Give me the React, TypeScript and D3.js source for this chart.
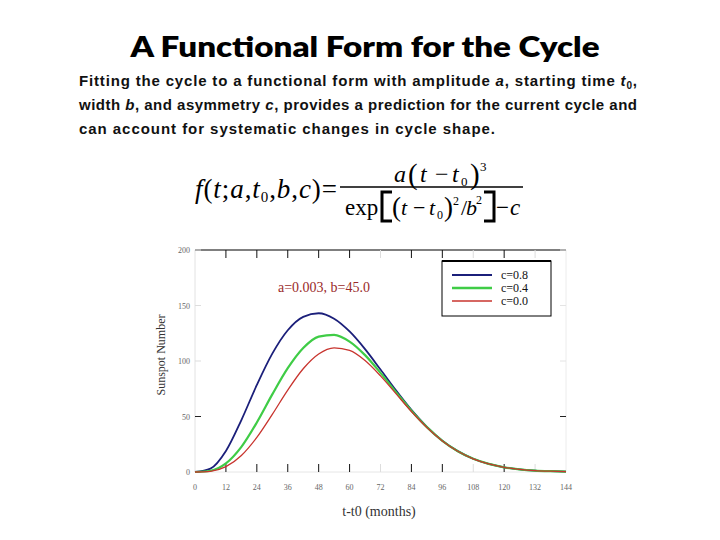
import React from "react";
import * as d3 from "d3";

const months = [0, 6, 12, 18, 24, 30, 36, 42, 48, 54, 60, 66, 72, 78, 84, 90, 96, 102, 108, 114, 120, 126, 132, 138, 144];
const seriesC08 = [0, 3.0, 18.9, 46.8, 78.4, 106.6, 127.7, 139.8, 143.0, 138.1, 126.6, 110.7, 92.3, 73.5, 55.9, 40.7, 28.3, 18.8, 11.9, 7.3, 4.2, 2.4, 1.3, 0.7, 0.3];
const seriesC04 = [0, 1.1, 7.7, 22.6, 44.6, 69.9, 93.5, 111.7, 122.0, 123.6, 117.5, 105.3, 89.3, 72.0, 55.2, 40.4, 28.1, 18.7, 11.9, 7.3, 4.2, 2.4, 1.3, 0.7, 0.3];
const seriesC00 = [0, 0.6, 4.8, 14.9, 31.2, 51.9, 73.8, 93.0, 106.3, 111.9, 109.5, 100.4, 86.6, 70.6, 54.5, 40.1, 28.0, 18.7, 11.9, 7.3, 4.2, 2.4, 1.3, 0.7, 0.3];
const seriesLabels = ["c=0.8", "c=0.4", "c=0.0"];
const seriesColors = ["#1b1f7a", "#3fcc46", "#c8342e"];
const seriesWidths = [1.8, 2.2, 1.3];
const xTicks = [0, 12, 24, 36, 48, 60, 72, 84, 96, 108, 120, 132, 144];
const yTicks = [0, 50, 100, 150, 200];

const paragraphLast = "can account for systematic changes in cycle shape.";

export default function App() {
  const x = d3.scaleLinear().domain([0, 144]).range([195, 566]);
  const y = d3.scaleLinear().domain([0, 200]).range([472, 250]);
  const line = d3
    .line<number>()
    .x((_, i) => x(months[i]))
    .y((d) => y(d))
    .curve(d3.curveMonotoneX);
  const allSeries = [seriesC08, seriesC04, seriesC00];
  const darkTicks = new Set([12, 24, 36, 48, 60, 84, 96, 120]);
  const serif = "'Liberation Serif', 'DejaVu Serif', serif";
  const sans = "'Liberation Sans', Arial, sans-serif";

  return (
    <svg width={720} height={540} style={{ position: "absolute", left: 0, top: 0, background: "#fff" }}>
      <rect x={0} y={0} width={720} height={540} fill="#fff" />
      {/* Title */}
      <text x={365} y={57} textAnchor="middle" fontFamily="Lato, 'Open Sans', sans-serif" fontWeight={800} fontSize={29} textLength={469} lengthAdjust="spacingAndGlyphs" fill="#000">
        A Functional Form for the Cycle
      </text>
      {/* Paragraph */}
      <g fontFamily={sans} fontSize={15} fontWeight={700} fill="#111">
        <text x={79} y={86} textLength={558} lengthAdjust="spacing">
          Fitting the cycle to a functional form with amplitude <tspan fontStyle="italic">a</tspan>, starting time <tspan fontStyle="italic">t</tspan><tspan fontSize={10} dy={3}>0</tspan><tspan dy={-3}>,</tspan>
        </text>
        <text x={79} y={110} textLength={558} lengthAdjust="spacing">
          width <tspan fontStyle="italic">b</tspan>, and asymmetry <tspan fontStyle="italic">c</tspan>, provides a prediction for the current cycle and
        </text>
        <text x={79} y={134} textLength={416} lengthAdjust="spacing">
          {paragraphLast}
        </text>
      </g>
      {/* Formula */}
      <g fontFamily={serif} fill="#000">
        <text x={195} y={198} fontSize={27} textLength={142} lengthAdjust="spacing">
          <tspan fontStyle="italic">f</tspan>
          <tspan>(</tspan>
          <tspan fontStyle="italic">t</tspan>
          <tspan>;</tspan>
          <tspan fontStyle="italic">a</tspan>
          <tspan>,</tspan>
          <tspan fontStyle="italic">t</tspan>
          <tspan fontSize={15} dy={4}>0</tspan>
          <tspan dy={-4}>,</tspan>
          <tspan fontStyle="italic">b</tspan>
          <tspan>,</tspan>
          <tspan fontStyle="italic">c</tspan>
          <tspan>)</tspan>
          <tspan>=</tspan>
        </text>
        <line x1={340} x2={523} y1={187} y2={187} stroke="#000" strokeWidth={1.3} />
        {/* numerator */}
        <text y={182} fontSize={24}>
          <tspan x={394} fontStyle="italic">a</tspan>
          <tspan x={408} fontSize={29} dy={2}>(</tspan>
          <tspan x={420} fontStyle="italic" dy={-2}>t</tspan>
          <tspan x={435}>−</tspan>
          <tspan x={452} fontStyle="italic">t</tspan>
          <tspan x={461} fontSize={13} dy={4}>0</tspan>
          <tspan x={470} fontSize={29} dy={-2}>)</tspan>
          <tspan x={480} fontSize={13} dy={-13}>3</tspan>
        </text>
        {/* denominator */}
        <text y={215} fontSize={23}>
          <tspan x={345}>exp</tspan>
        </text>
        <path d="M392,192 L382,192 L382,221 L392,221" fill="none" stroke="#000" strokeWidth={3} />
        <text y={215} fontSize={22}>
          <tspan x={392} fontSize={27} dy={1}>(</tspan>
          <tspan x={401} fontStyle="italic" dy={-1}>t</tspan>
          <tspan x={413}>−</tspan>
          <tspan x={429} fontStyle="italic">t</tspan>
          <tspan x={437} fontSize={12} dy={4}>0</tspan>
          <tspan x={444} fontSize={27} dy={-3}>)</tspan>
          <tspan x={453} fontSize={12} dy={-11}>2</tspan>
          <tspan x={461} dy={10}>/</tspan>
          <tspan x={466} fontStyle="italic">b</tspan>
          <tspan x={476} fontSize={12} dy={-11}>2</tspan>
        </text>
        <path d="M484,192 L494,192 L494,221 L484,221" fill="none" stroke="#000" strokeWidth={3} />
        <text y={215} fontSize={23}>
          <tspan x={496}>−</tspan>
          <tspan x={510} fontStyle="italic">c</tspan>
        </text>
      </g>
      {/* Plot frame */}
      <line x1={195} x2={195} y1={250} y2={472} stroke="#e2e2e2" />
      <line x1={566} x2={566} y1={250} y2={472} stroke="#ececec" />
      <line x1={195} x2={566} y1={472} y2={472} stroke="#e6e6e6" />
      <line x1={195} x2={566} y1={250} y2={250} stroke="#000" strokeWidth={1.2} />
      {xTicks.filter((t) => t > 0 && t < 144).map((t) => (
        <g key={"xt" + t}>
          <line x1={x(t)} x2={x(t)} y1={250} y2={258} stroke={darkTicks.has(t) ? "#111" : "#ddd"} />
          <line x1={x(t)} x2={x(t)} y1={472} y2={464} stroke={darkTicks.has(t) ? "#111" : "#ddd"} />
        </g>
      ))}
      {xTicks.map((t) => (
        <text key={"xl" + t} x={x(t)} y={490} textAnchor="middle" fontFamily={serif} fontSize={8} fill="#666">
          {t}
        </text>
      ))}
      {yTicks.map((t) => (
        <g key={"y" + t}>
          <line x1={195} x2={201} y1={y(t)} y2={y(t)} stroke={t === 50 ? "#222" : "#ddd"} />
          <line x1={566} x2={560} y1={y(t)} y2={y(t)} stroke={t === 50 ? "#222" : "#e4e4e4"} />
          <text x={190} y={y(t) + 3} textAnchor="end" fontFamily={serif} fontSize={8} fill="#666">
            {t}
          </text>
        </g>
      ))}
      {/* Curves */}
      {allSeries.map((s, i) => (
        <path key={"s" + i} d={line(s) || ""} fill="none" stroke={seriesColors[i]} strokeWidth={seriesWidths[i]} />
      ))}
      {/* Annotation */}
      <text x={278} y={292} fontFamily={serif} fontSize={14} fill="#9a2a2a">
        a=0.003, b=45.0
      </text>
      {/* Legend */}
      <rect x={442} y={261} width={109} height={55} fill="#fff" stroke="#000" strokeWidth={1} />
      <line x1={442} x2={551} y1={261} y2={261} stroke="#000" strokeWidth={2} />
      {seriesLabels.map((lab, i) => (
        <g key={"lg" + i}>
          <line x1={452} x2={492} y1={275 + i * 13} y2={275 + i * 13} stroke={seriesColors[i]} strokeWidth={seriesWidths[i] + 0.4} />
          <text x={501} y={279 + i * 13} fontFamily={serif} fontSize={12} fill="#111">
            {lab}
          </text>
        </g>
      ))}
      {/* Axis titles */}
      <text transform="translate(165,355) rotate(-90)" textAnchor="middle" fontFamily={serif} fontSize={12} fill="#333">
        Sunspot Number
      </text>
      <text x={379} y={516} textAnchor="middle" fontFamily={serif} fontSize={14} fill="#333">
        t-t0 (months)
      </text>
    </svg>
  );
}
